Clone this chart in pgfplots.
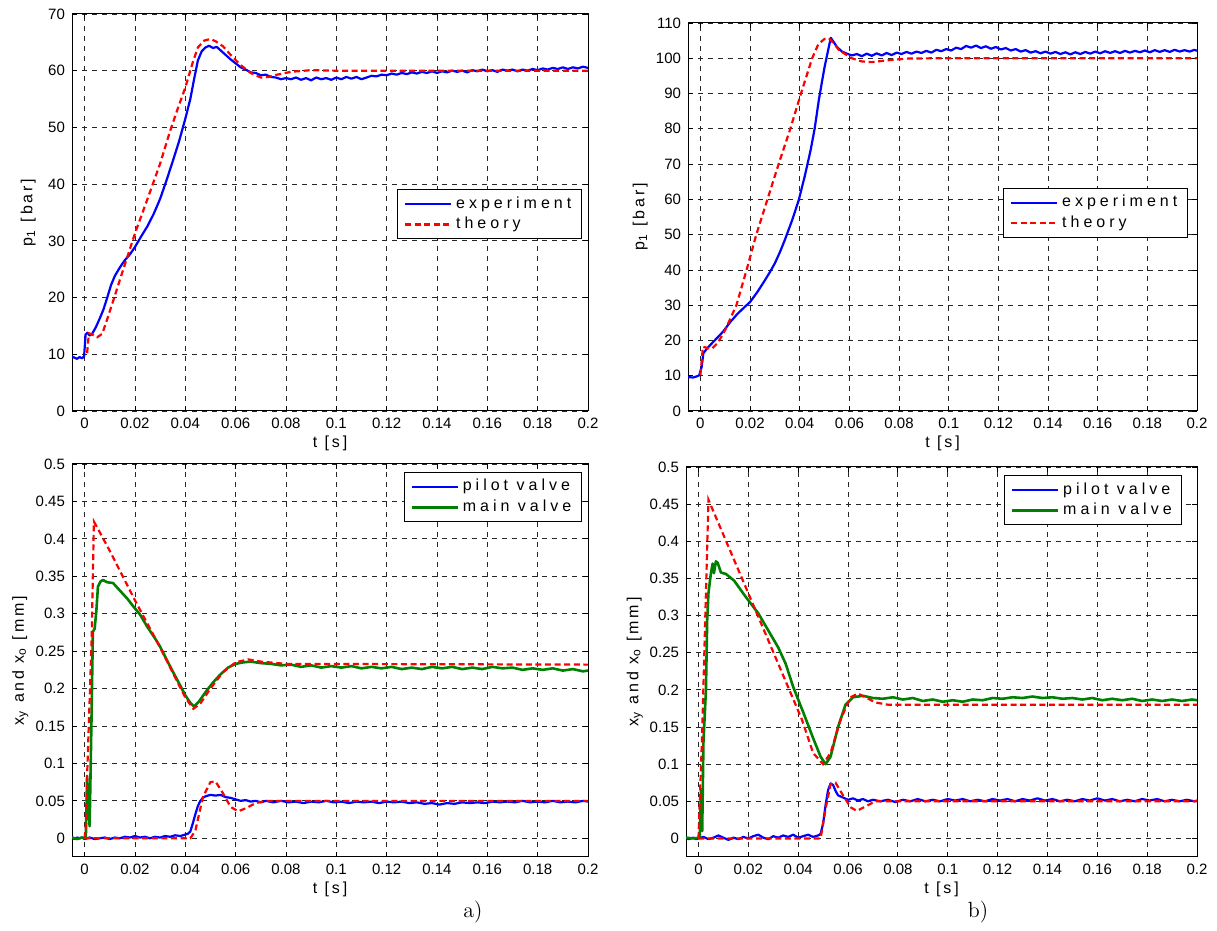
\documentclass[border=0pt]{standalone}
\usepackage{fontspec}
\setsansfont{Liberation Sans}
\newfontfamily\lblfont{Liberation Sans}[LetterSpace=18]
\newfontfamily\legfont{Liberation Sans}[LetterSpace=25]
\newfontfamily\tickfamily{Liberation Sans}
\usepackage{pgfplots}
\pgfplotsset{compat=1.18}
\definecolor{mblue}{rgb}{0,0,1}
\definecolor{mgreen}{rgb}{0,0.5,0}
\definecolor{mred}{rgb}{1,0,0}
\pgfplotsset{
 panel/.style={
  scale only axis, anchor=south west,
  xmin=-0.005, xmax=0.2,
  xtick={0,0.02,0.04,0.06,0.08,0.1,0.12,0.14,0.16,0.18,0.2},
  xticklabels={0,0.02,0.04,0.06,0.08,0.1,0.12,0.14,0.16,0.18,0.2},
  grid=major,
  major grid style={black!85, line width=0.4pt, dash pattern=on 2.5pt off 2.5pt},
  tick align=inside, major tick length=2.5pt,
  every tick/.style={black, line width=0.4pt},
  axis line style={line width=0.5pt},
  tick label style={font=\fontsize{7.5}{8}\tickfamily},
  xlabel={t [s]},
  x label style={at={(rel axis cs:0.5,0)}, anchor=center, yshift=-16pt, font=\fontsize{8}{9}\lblfont},
  y label style={font=\fontsize{8}{9}\lblfont, anchor=center},
  legend style={font=\fontsize{8}{9}\legfont, draw=black, line width=0.5pt, anchor=north east, inner xsep=3pt, inner ysep=1.5pt, row sep=-1pt, cells={anchor=west}},
  legend image code/.code={\draw[##1] (0pt,0pt) -- (23pt,0pt);},
  /pgf/number format/assume math mode=true,
 },
 expb/.style={mblue, line width=1.1pt, line join=round},
 expg/.style={mgreen, line width=1.3pt, line join=round},
 theo/.style={mred, line width=1.1pt, dash pattern=on 3pt off 1.8pt},
}
\begin{document}
\begin{tikzpicture}
\path[use as bounding box] (0,0) rectangle (608.5pt,465.5pt);

% ---------------- top left ----------------
\begin{axis}[panel, at={(36pt,260pt)}, width=258pt, height=198.5pt,
  ymin=0, ymax=70, ytick={0,10,20,30,40,50,60,70},
  ylabel={p\textsubscript{1} [bar]},
  y label style={at={(rel axis cs:-0.085,0.5)}},
  legend style={at={(rel axis cs:0.988,0.559)}}]
\addplot[expb] table {
t p
-0.0050 9.6
-0.0040 9.4
-0.0030 9.2
-0.0020 9.5
-0.0010 9.3
-0.0002 9.6
0.0004 13.5
0.0012 13.8
0.0020 13.3
0.0030 13.6
0.0045 14.8
0.0060 16.3
0.0075 17.9
0.0090 20.0
0.0105 22.2
0.0120 23.8
0.0140 25.3
0.0160 26.6
0.0180 27.6
0.0200 28.9
0.0225 30.8
0.0250 32.6
0.0275 34.8
0.0300 37.4
0.0325 40.6
0.0350 44.0
0.0375 47.5
0.0400 51.5
0.0420 55.0
0.0435 58.5
0.0450 61.8
0.0465 63.4
0.0480 64.1
0.0495 64.4
0.0510 64.0
0.0525 64.2
0.0540 63.6
0.0560 62.8
0.0580 62.0
0.0600 61.3
0.0620 60.6
0.0640 60.2
0.0660 59.7
0.0680 59.6
0.0700 59.2
0.0720 59.3
0.0740 58.9
0.0760 58.8
0.0780 58.5
0.0800 58.7
0.082 58.5
0.084 58.8
0.086 58.4
0.088 58.7
0.090 58.3
0.092 58.8
0.094 58.5
0.096 58.7
0.098 58.4
0.100 58.8
0.102 58.5
0.104 58.9
0.106 58.6
0.108 58.9
0.110 58.5
0.112 58.8
0.114 59.1
0.116 59.0
0.118 59.3
0.120 59.2
0.122 59.5
0.124 59.3
0.126 59.6
0.128 59.4
0.130 59.7
0.132 59.5
0.134 59.8
0.136 59.6
0.138 59.9
0.140 59.6
0.142 59.9
0.144 59.7
0.146 60.0
0.148 59.8
0.150 60.0
0.152 59.7
0.154 60.1
0.156 59.9
0.158 60.2
0.160 59.9
0.162 60.1
0.164 59.8
0.166 60.2
0.168 60.0
0.170 60.2
0.172 59.9
0.174 60.2
0.176 60.0
0.178 60.3
0.180 60.1
0.182 60.4
0.184 60.2
0.186 60.5
0.188 60.3
0.190 60.6
0.192 60.3
0.194 60.6
0.196 60.4
0.198 60.7
0.200 60.5
};
\addlegendentry{experiment}
\addplot[theo] table {
t p
0.0010 10.2
0.0017 13.7
0.0030 13.5
0.0050 13.0
0.0070 13.6
0.0090 16.2
0.0115 19.6
0.0140 23.1
0.0170 27.2
0.0200 31.3
0.0250 37.4
0.0300 43.6
0.0340 49.4
0.0370 53.3
0.0400 57.0
0.0430 61.5
0.0450 64.1
0.0475 65.3
0.0500 65.6
0.0520 65.2
0.0550 64.3
0.0580 62.8
0.0620 61.0
0.0660 59.6
0.0700 58.8
0.0730 58.9
0.0765 59.3
0.0820 59.8
0.0900 60.1
0.1000 60.0
0.2000 60.0
};
\addlegendentry{theory}
\end{axis}

% ---------------- top right ----------------
\begin{axis}[panel, at={(344pt,260pt)}, width=254.5pt, height=194pt,
  ymin=0, ymax=110, ytick={0,10,20,30,40,50,60,70,80,90,100,110},
  ylabel={p\textsubscript{1} [bar]},
  y label style={at={(rel axis cs:-0.094,0.5)}},
  legend style={at={(rel axis cs:0.982,0.575)}}]
\addplot[expb] table {
t p
-0.0050 9.6
-0.0030 9.5
-0.0015 9.8
-0.0005 10.1
0.0005 12.5
0.0012 16.4
0.0030 18.0
0.0060 20.2
0.0090 22.4
0.0120 25.2
0.0150 27.6
0.0180 29.6
0.0200 30.9
0.0230 33.8
0.0260 37.1
0.0280 39.4
0.0300 41.9
0.0320 45.0
0.0340 48.5
0.0370 54.2
0.0396 59.8
0.0420 66.5
0.0444 74.0
0.0460 80.0
0.0477 88.2
0.0490 93.5
0.0500 97.5
0.0515 102.5
0.0525 105.8
0.0535 104.8
0.0550 103.2
0.0570 101.9
0.0590 101.3
0.0610 100.8
0.063 101.2
0.065 100.6
0.067 101.3
0.069 100.7
0.071 101.4
0.073 100.8
0.075 101.5
0.077 100.9
0.079 101.6
0.081 101.2
0.083 101.8
0.085 101.3
0.087 101.9
0.089 101.5
0.091 102.1
0.093 101.6
0.095 102.4
0.097 102.0
0.099 102.6
0.101 102.2
0.103 103.0
0.105 102.6
0.107 103.5
0.109 103.0
0.111 103.6
0.113 102.9
0.115 103.4
0.117 102.7
0.119 103.2
0.121 102.5
0.123 102.9
0.125 102.2
0.127 102.6
0.129 101.9
0.131 102.3
0.133 101.6
0.135 102.0
0.137 101.4
0.139 101.9
0.141 101.3
0.143 101.8
0.145 101.2
0.147 101.7
0.149 101.1
0.151 101.7
0.153 101.2
0.155 101.8
0.157 101.3
0.159 101.9
0.161 101.4
0.163 102.0
0.165 101.5
0.167 102.0
0.169 101.5
0.171 102.1
0.173 101.6
0.175 102.1
0.177 101.7
0.179 102.2
0.181 101.7
0.183 102.3
0.185 101.8
0.187 102.3
0.189 101.8
0.191 102.4
0.193 101.9
0.195 102.3
0.197 101.9
0.199 102.4
0.200 102.1
};
\addlegendentry{experiment}
\addplot[theo] table {
t p
0.0000 10.2
0.0010 18.2
0.0045 17.6
0.0070 19.3
0.0100 23.0
0.0145 30.0
0.0186 40.0
0.0225 50.0
0.0270 60.0
0.0315 70.0
0.0362 80.0
0.0405 90.0
0.0450 100.0
0.0475 104.0
0.0500 105.5
0.0517 105.7
0.0540 104.0
0.0558 102.3
0.0610 100.0
0.0650 99.1
0.0690 98.9
0.0750 99.4
0.0830 99.9
0.0950 100.0
0.2000 100.0
};
\addlegendentry{theory}
\end{axis}

% ---------------- bottom left ----------------
\begin{axis}[panel, at={(36pt,37pt)}, width=258pt, height=196.5pt,
  ymin=-0.025, ymax=0.5,
  ytick={0,0.05,0.1,0.15,0.2,0.25,0.3,0.35,0.4,0.45,0.5},
  yticklabels={0,0.05,0.1,0.15,0.2,0.25,0.3,0.35,0.4,0.45,0.5},
  ylabel={x\textsubscript{y} and x\textsubscript{o} [mm]},
  y label style={at={(rel axis cs:-0.10,0.5)}},
  legend style={at={(rel axis cs:0.988,0.98)}}]
\addplot[expb] table {
t v
-0.005 0.001
-0.004 -0.001
-0.003 0.001
-0.002 0.000
-0.001 0.001
0.000 -0.001
0.002 0.001
0.004 -0.001
0.006 0.000
0.008 0.001
0.010 -0.001
0.012 0.001
0.014 0.000
0.016 0.002
0.018 0.001
0.020 0.003
0.022 0.001
0.024 0.002
0.026 0.000
0.028 0.002
0.030 0.001
0.032 0.003
0.034 0.002
0.036 0.004
0.038 0.003
0.040 0.005
0.041 0.006
0.042 0.009
0.043 0.020
0.044 0.032
0.045 0.043
0.046 0.050
0.047 0.054
0.048 0.056
0.050 0.058
0.052 0.057
0.054 0.058
0.056 0.055
0.058 0.054
0.060 0.052
0.062 0.050
0.064 0.051
0.066 0.049
0.068 0.050
0.070 0.048
0.072 0.050
0.075 0.048
0.078 0.050
0.081 0.048
0.084 0.049
0.087 0.047
0.090 0.049
0.093 0.048
0.096 0.050
0.099 0.048
0.102 0.049
0.105 0.047
0.108 0.049
0.111 0.048
0.114 0.049
0.117 0.047
0.120 0.049
0.123 0.048
0.126 0.049
0.129 0.047
0.132 0.048
0.135 0.046
0.138 0.047
0.141 0.045
0.144 0.047
0.147 0.046
0.150 0.048
0.153 0.047
0.156 0.048
0.159 0.047
0.162 0.049
0.165 0.048
0.168 0.049
0.171 0.048
0.174 0.050
0.177 0.048
0.180 0.049
0.183 0.048
0.186 0.050
0.189 0.048
0.192 0.049
0.195 0.048
0.198 0.050
0.200 0.049
};
\addlegendentry{pilot valve}
\addplot[expg] table {
t v
-0.0050 0.001
-0.0030 -0.001
-0.0010 0.001
0.0005 0.000
0.0010 0.083
0.0020 0.016
0.0027 0.150
0.0033 0.276
0.0040 0.280
0.0047 0.305
0.0053 0.336
0.0063 0.343
0.0073 0.345
0.0090 0.342
0.0113 0.341
0.0140 0.331
0.0170 0.320
0.0193 0.310
0.0220 0.299
0.0250 0.282
0.0280 0.267
0.0300 0.256
0.0330 0.236
0.0350 0.223
0.0380 0.204
0.0400 0.191
0.0420 0.181
0.0435 0.176
0.0455 0.183
0.0480 0.195
0.0510 0.208
0.0540 0.219
0.0570 0.228
0.0600 0.233
0.0630 0.235
0.0660 0.236
0.0700 0.234
0.074 0.233
0.078 0.231
0.082 0.232
0.086 0.229
0.090 0.231
0.094 0.228
0.098 0.230
0.102 0.228
0.106 0.230
0.110 0.227
0.114 0.229
0.118 0.227
0.122 0.229
0.126 0.226
0.130 0.228
0.134 0.226
0.138 0.229
0.142 0.227
0.146 0.229
0.150 0.226
0.154 0.228
0.158 0.226
0.162 0.229
0.166 0.227
0.170 0.228
0.174 0.225
0.178 0.227
0.182 0.225
0.186 0.227
0.190 0.224
0.194 0.226
0.198 0.223
0.200 0.224
};
\addlegendentry{main valve}
\addplot[theo, forget plot] table {
t v
0.0000 0.000
0.0008 0.025
0.0010 0.083
0.0028 0.265
0.0037 0.423
0.0052 0.414
0.0100 0.384
0.0200 0.318
0.0300 0.255
0.0400 0.188
0.0432 0.173
0.0460 0.180
0.0500 0.200
0.0550 0.222
0.0600 0.235
0.0650 0.239
0.0700 0.236
0.0800 0.233
0.2000 0.232
};
\addplot[theo, forget plot] table {
t v
0.0000 0.000
0.0420 0.000
0.0440 0.010
0.0470 0.055
0.0500 0.075
0.0520 0.076
0.0550 0.060
0.0580 0.042
0.0610 0.036
0.0640 0.040
0.0680 0.047
0.0720 0.050
0.2000 0.050
};
\end{axis}

% ---------------- bottom right ----------------
\begin{axis}[panel, at={(343pt,37pt)}, width=255.5pt, height=195pt,
  ymin=-0.025, ymax=0.5,
  ytick={0,0.05,0.1,0.15,0.2,0.25,0.3,0.35,0.4,0.45,0.5},
  yticklabels={0,0.05,0.1,0.15,0.2,0.25,0.3,0.35,0.4,0.45,0.5},
  ylabel={x\textsubscript{y} and x\textsubscript{o} [mm]},
  y label style={at={(rel axis cs:-0.10,0.5)}},
  legend style={at={(rel axis cs:0.971,0.979)}}]
\addplot[expb] table {
t v
-0.005 0.001
-0.004 -0.001
-0.003 0.000
-0.002 0.001
-0.001 -0.001
0.000 0.000
0.002 0.002
0.004 -0.001
0.006 0.001
0.008 0.004
0.010 0.001
0.012 -0.002
0.014 0.001
0.016 -0.001
0.018 0.002
0.020 0.000
0.022 0.003
0.024 0.005
0.026 0.001
0.028 -0.001
0.030 0.003
0.032 0.001
0.034 0.004
0.036 0.002
0.038 0.005
0.040 0.001
0.042 0.003
0.044 0.005
0.046 0.002
0.048 0.004
0.049 0.006
0.050 0.020
0.051 0.045
0.052 0.065
0.053 0.074
0.054 0.072
0.055 0.064
0.056 0.058
0.058 0.055
0.060 0.052
0.062 0.054
0.064 0.051
0.066 0.053
0.068 0.050
0.070 0.052
0.073 0.050
0.076 0.052
0.079 0.049
0.082 0.052
0.085 0.050
0.088 0.053
0.091 0.050
0.094 0.052
0.097 0.050
0.100 0.053
0.103 0.051
0.106 0.053
0.109 0.050
0.112 0.052
0.115 0.050
0.118 0.053
0.121 0.051
0.124 0.053
0.127 0.050
0.130 0.053
0.133 0.051
0.136 0.054
0.139 0.051
0.142 0.053
0.145 0.050
0.148 0.052
0.151 0.050
0.154 0.053
0.157 0.051
0.160 0.054
0.163 0.051
0.166 0.053
0.169 0.050
0.172 0.052
0.175 0.050
0.178 0.053
0.181 0.051
0.184 0.053
0.187 0.050
0.190 0.052
0.193 0.050
0.196 0.052
0.199 0.050
0.200 0.051
};
\addlegendentry{pilot valve}
\addplot[expg] table {
t v
-0.0050 0.001
-0.0020 0.000
0.0005 0.001
0.0010 0.066
0.0015 0.010
0.0020 0.130
0.0030 0.200
0.0035 0.294
0.0040 0.330
0.0050 0.357
0.0057 0.370
0.0062 0.357
0.0070 0.373
0.0077 0.371
0.0090 0.358
0.0110 0.356
0.0143 0.347
0.0190 0.325
0.0240 0.303
0.0280 0.280
0.0320 0.257
0.0350 0.235
0.0380 0.204
0.0420 0.170
0.0460 0.135
0.0490 0.110
0.0510 0.100
0.0530 0.110
0.0560 0.150
0.0590 0.180
0.0620 0.190
0.0660 0.192
0.0700 0.189
0.074 0.188
0.078 0.190
0.082 0.187
0.086 0.189
0.090 0.185
0.094 0.187
0.098 0.184
0.102 0.186
0.106 0.184
0.110 0.187
0.114 0.186
0.118 0.189
0.122 0.188
0.126 0.190
0.130 0.189
0.134 0.191
0.138 0.189
0.142 0.190
0.146 0.188
0.150 0.189
0.154 0.187
0.158 0.189
0.162 0.186
0.166 0.188
0.170 0.186
0.174 0.188
0.178 0.185
0.182 0.187
0.186 0.185
0.190 0.187
0.194 0.185
0.198 0.187
0.200 0.186
};
\addlegendentry{main valve}
\addplot[theo, forget plot] table {
t v
0.0000 0.000
0.0015 0.142
0.0040 0.456
0.0200 0.330
0.0415 0.160
0.0460 0.115
0.0500 0.100
0.0530 0.115
0.0570 0.160
0.0610 0.190
0.0640 0.195
0.0670 0.190
0.0710 0.183
0.0760 0.180
0.2000 0.180
};
\addplot[theo, forget plot] table {
t v
0.0000 0.000
0.0490 0.000
0.0510 0.040
0.0530 0.073
0.0550 0.075
0.0580 0.058
0.0610 0.042
0.0635 0.037
0.0670 0.043
0.0710 0.050
0.2000 0.050
};
\end{axis}

\node[font=\fontsize{11}{13}\selectfont\rmfamily] at (236.5pt,9.5pt) {a)};
\node[font=\fontsize{11}{13}\selectfont\rmfamily] at (489pt,9.5pt) {b)};
\end{tikzpicture}
\end{document}
